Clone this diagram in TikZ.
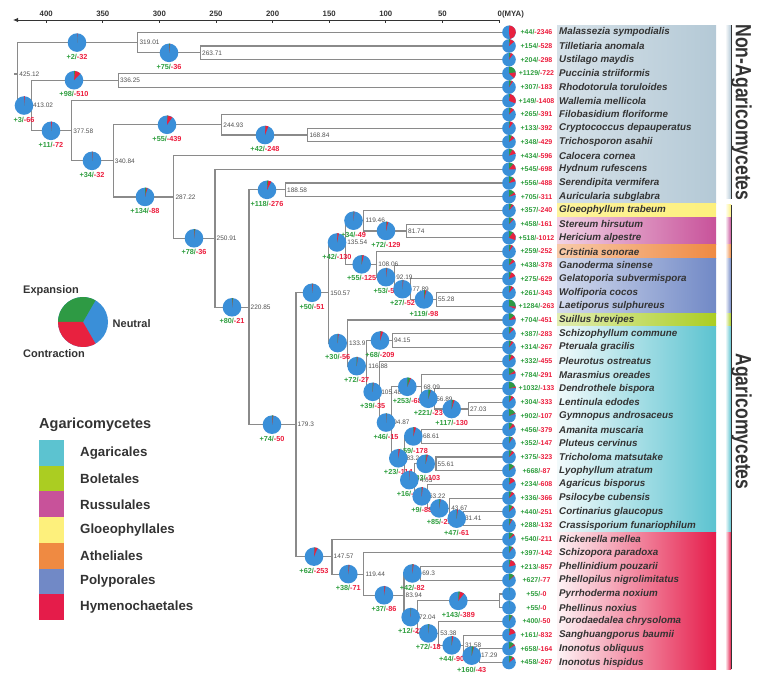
\documentclass[tikz,border=0pt]{standalone}
\usepackage{graphicx}
\usepackage{fontspec}
\setmainfont{Liberation Sans}
\usetikzlibrary{arrows.meta}
\definecolor{treegray}{HTML}{8A8A8A}
\definecolor{agegray}{HTML}{505050}
\definecolor{darktext}{HTML}{333333}
\definecolor{pieblue}{HTML}{3A8FD8}
\definecolor{piegreen}{HTML}{2E9A44}
\definecolor{piered}{HTML}{E8213F}
\definecolor{tgreen}{HTML}{2F9E3F}
\definecolor{tred}{HTML}{EC1C3C}
\definecolor{nonag}{HTML}{B4C9D6}
\definecolor{gloeo}{HTML}{FDF07C}
\definecolor{russ}{HTML}{C8529A}
\definecolor{athel}{HTML}{EF8A42}
\definecolor{poly}{HTML}{7189C6}
\definecolor{bolet}{HTML}{ABCD22}
\definecolor{agar}{HTML}{5CC3D0}
\definecolor{hymen}{HTML}{E51C4A}
\newcommand{\gpie}[5]{%
  \fill[pieblue] (#1,#2) circle[radius=#3];%
  \pgfmathsetmacro\gpa{-90+#4*0.072}%
  \pgfmathsetmacro\gpb{\gpa+#5*0.072}%
  \ifnum#4>0 \fill[piegreen] (#1,#2) -- ++(-90:#3) arc[start angle=-90,end angle=\gpa,radius=#3] -- cycle;\fi
  \ifnum#5>0 \fill[piered] (#1,#2) -- ++(\gpa:#3) arc[start angle=\gpa,end angle=\gpb,radius=#3] -- cycle;\fi
}
\begin{document}
\begin{tikzpicture}[x=1pt,y=-1pt,
  branch/.style={draw=treegray, line width=1.15pt, line join=miter},
  age/.style={font=\fontsize{6.5}{7}\selectfont, text=agegray, anchor=west, inner sep=1.5pt},
  plab/.style={font=\bfseries\fontsize{7.3}{8}\selectfont, inner sep=0pt},
  tipcnt/.style={font=\bfseries\fontsize{7}{8}\selectfont, inner sep=0pt},
  spname/.style={font=\bfseries\itshape\fontsize{9.8}{11}\selectfont, text=darktext, anchor=west, inner sep=0pt},
  axlab/.style={font=\bfseries\fontsize{7.8}{9}\selectfont, text=darktext, inner sep=0pt},
  leglab/.style={font=\bfseries\fontsize{11}{13}\selectfont, text=darktext, anchor=west, inner sep=0pt},
  ordlab/.style={font=\bfseries\fontsize{13.3}{15}\selectfont, text=darktext, anchor=west, inner sep=0pt},
  grouplab/.style={rotate=-90, text=darktext, inner sep=0pt},
]
\useasboundingbox (0,0) rectangle (758,684);

% ---------- coloured bands ----------
\shade[left color=nonag!55, right color=nonag] (557,25.45) rectangle (716,203.55);
\shade[left color=gloeo!75, right color=gloeo] (557,203.55) rectangle (716,217.25);
\shade[left color=russ!25, right color=russ] (557,217.25) rectangle (716,244.65);
\shade[left color=athel!45, right color=athel] (557,244.65) rectangle (716,258.35);
\shade[left color=poly!30, right color=poly] (557,258.35) rectangle (716,313.15);
\shade[left color=bolet!35, right color=bolet] (557,313.15) rectangle (716,326.85);
\shade[left color=agar!8, right color=agar] (557,326.85) rectangle (716,532.35);
\shade[left color=hymen!5, right color=hymen] (557,532.35) rectangle (716,669.35);

% ---------- right strip ----------
\shade[left color=white, right color=nonag] (725,25.45) rectangle (731,199);
\shade[left color=white, right color=gloeo] (725,205) rectangle (731,217.25);
\shade[left color=white, right color=russ] (725,217.25) rectangle (731,244.65);
\shade[left color=white, right color=athel] (725,244.65) rectangle (731,258.35);
\shade[left color=white, right color=poly] (725,258.35) rectangle (731,313.15);
\shade[left color=white, right color=bolet] (725,313.15) rectangle (731,326.85);
\shade[left color=white, right color=agar] (725,326.85) rectangle (731,532.35);
\shade[left color=white, right color=hymen] (725,532.35) rectangle (731,669.35);
\coordinate (g1a) at (731.6,25.45); \coordinate (g1b) at (731.6,199);
\coordinate (g2a) at (731.6,205); \coordinate (g2b) at (731.6,669.35);
\draw[line width=1.2pt, darktext] (g1a) -- (g1b);
\draw[line width=1.2pt, darktext] (g2a) -- (g2b);
\node[grouplab] (nonagl) at (741.5,112.5) {\scalebox{0.8}[1]{\bfseries\fontsize{22}{22}\selectfont Non-Agaricomycetes}};
\node[grouplab] (agl) at (741.5,421.5) {\scalebox{0.8}[1]{\bfseries\fontsize{22}{22}\selectfont Agaricomycetes}};

% ---------- time axis ----------
\coordinate (ax0) at (499,20);
\coordinate (axL) at (13,20);
\draw[darktext, line width=0.9pt, -{Latex[length=5pt,width=4.5pt]}] (ax0) -- (axL);
\foreach \a in {400,350,300,250,200,150,100,50}{
  \pgfmathsetmacro\ax{499-1.132*\a}
  \draw[darktext, line width=0.8pt] (\ax,20) -- (\ax,23);
  \node[axlab] (ax\a) at (\ax,14.3) {\a};
}
\draw[darktext, line width=0.8pt] (499,20) -- (499,23.5);
\node[axlab, anchor=west] (axz) at (497.5,14.3) {0(MYA)};

% ---------- tips ----------
\foreach \i in {0,...,46}{
  \pgfmathsetmacro\yy{32.3+13.7*\i}
  \coordinate (L\i) at (503,\yy);
}

% ---------- internal nodes ----------
\coordinate (n425) at (17.75,74.06);
\coordinate (n319) at (137.9,42.58);
\coordinate (n263) at (200.5,52.85);
\coordinate (n413) at (31.5,105.54);
\coordinate (n336) at (118.4,80.25);
\coordinate (n377) at (71.6,130.83);
\coordinate (n340) at (113.2,160.86);
\coordinate (n244) at (221.7,124.78);
\coordinate (n168) at (307.8,135.05);
\coordinate (n287) at (173.9,196.95);
\coordinate (n250) at (215.0,238.3);
\coordinate (n220) at (249.0,307.3);
\coordinate (n188) at (285.5,189.85);
\coordinate (n179) at (296.0,424.7);
\coordinate (n150) at (328.6,292.8);
\coordinate (n135) at (345.6,242.5);
\coordinate (n119a) at (363.8,220.7);
\coordinate (n81) at (406.5,230.95);
\coordinate (n108) at (376.7,264.35);
\coordinate (n92) at (394.6,277.2);
\coordinate (n77) at (410.8,289.2);
\coordinate (n55) at (436.4,299.45);
\coordinate (n133) at (347.4,343.1);
\coordinate (n116) at (366.7,366.19);
\coordinate (n94a) at (392.4,340.55);
\coordinate (n105) at (379.6,391.82);
\coordinate (n94b) at (391.6,422.54);
\coordinate (n68a) at (421.9,386.79);
\coordinate (n56) at (434.6,398.78);
\coordinate (n27) at (468.4,409.05);
\coordinate (n83) at (404.8,458.29);
\coordinate (n68b) at (421.3,436.45);
\coordinate (n74) at (414.5,480.12);
\coordinate (n55b) at (436.0,463.85);
\coordinate (n63) at (427.4,496.39);
\coordinate (n43) at (449.6,508.38);
\coordinate (n31a) at (463.4,518.65);
\coordinate (n147) at (332.0,556.65);
\coordinate (n119b) at (363.8,574.09);
\coordinate (n83b) at (404.0,595.29);
\coordinate (n69) at (420.6,573.45);
\coordinate (n72) at (417.5,617.12);
\coordinate (n0) at (499.3,600.85);
\coordinate (n53) at (438.6,633.39);
\coordinate (n31b) at (463.3,645.38);
\coordinate (n17) at (479.4,655.65);
\coordinate (rootstub) at (14,74.06);

% ---------- branches ----------
\draw[branch] (n425) -- (rootstub);
\foreach \p/\a/\b in {n425/n319/n413, n319/L0/n263, n263/L1/L2, n413/n336/n377,
  n336/L3/L4, n377/L5/n340, n340/n244/n287, n244/L6/n168, n168/L7/L8,
  n287/L9/n250, n250/L10/n220, n220/n188/n179, n188/L11/L12, n179/n150/n147,
  n150/n135/n133, n135/n119a/n108, n119a/L13/n81, n81/L14/L15, n108/L16/n92,
  n92/L17/n77, n77/L18/n55, n55/L19/L20, n133/L21/n116, n116/n94a/n105,
  n94a/L22/L23, n105/L24/n94b, n94b/n68a/n83, n68a/L25/n56, n56/L26/n27,
  n27/L27/L28, n83/n68b/n74, n68b/L29/L30, n74/n55b/n63, n55b/L31/L32,
  n63/L33/n43, n43/L34/n31a, n31a/L35/L36, n147/L37/n119b, n119b/L38/n83b,
  n83b/n69/n72, n69/L39/L40, n72/n0/n53, n0/L41/L42, n53/L43/n31b,
  n31b/L44/n17, n17/L45/L46}{
  \draw[branch] (\a) -| (\p) |- (\b);
}

% ---------- node ages ----------
\foreach \n/\t in {n425/425.12, n319/319.01, n263/263.71, n413/413.02, n336/336.25,
  n377/377.58, n340/340.84, n244/244.93, n168/168.84, n287/287.22, n250/250.91,
  n220/220.85, n188/188.58, n179/179.3, n150/150.57, n135/135.54, n119a/119.46,
  n81/81.74, n108/108.06, n92/92.19, n77/77.89, n55/55.28, n133/133.9,
  n94a/94.15, n116/116.88, n105/105.48, n94b/94.87, n68a/68.09, n56/56.89,
  n27/27.03, n83/83.24, n68b/68.61, n74/74.63, n55b/55.61, n63/63.22,
  n43/43.67, n31a/31.41, n147/147.57, n119b/119.44, n83b/83.94, n69/69.3,
  n72/72.04, n53/53.38, n31b/31.58, n17/17.29}{
  \node[age] (a\n) at (\n) {\t};
}

% ---------- internal pies ----------
\def\pielist{77/42.58/2/32, 169/52.85/75/36, 24/105.54/3/66, 74/80.25/98/510,
  51/130.83/11/72, 92/160.86/34/32, 167/124.78/55/439, 265/135.05/42/248,
  145/196.95/134/88, 194/238.3/78/36, 232/307.3/80/21, 267/189.85/118/276,
  272/424.7/74/50, 312/292.8/50/51, 337/242.5/42/130, 353.5/220.7/34/49,
  386/230.95/72/129, 361.7/264.35/55/125, 386/277.2/53/59, 402.5/289.2/27/52,
  424/299.45/119/98, 337.7/343.1/30/56, 380/340.55/68/209, 356.7/366.19/72/27,
  372.7/391.82/39/35, 386/422.54/46/15, 407.3/386.79/253/68, 428.3/398.78/221/23,
  451.7/409.05/117/130, 398.3/458.29/23/114, 413.3/436.45/59/178,
  409.3/480.12/16/27, 425.7/463.85/83/103, 421.7/496.39/9/88, 439.3/508.38/85/29,
  456.7/518.65/47/61, 314/556.65/62/253, 348.3/574.09/38/71, 384/595.29/37/86,
  412.3/573.45/42/82, 410.7/617.12/12/23, 458.3/600.85/143/389,
  428.3/633.39/72/18, 451.7/645.38/44/90, 471.7/655.65/160/43}
\foreach \x/\y/\p/\m [count=\k] in \pielist{
  \node[plab] (pl\k) at (\x,\y+14) {\textcolor{tgreen}{+\p/}\textcolor{tred}{-\m}};
}
\foreach \x/\y/\p/\m in \pielist{
  \gpie{\x}{\y}{9.3}{\p}{\m}
}

% ---------- tip pies, counts, names ----------
\foreach \i/\nm/\p/\m in {0/Malassezia sympodialis/44/2346, 1/Tilletiaria anomala/154/528,
  2/Ustilago maydis/204/298, 3/Puccinia striiformis/1129/722,
  4/Rhodotorula toruloides/307/183, 5/Wallemia mellicola/149/1408,
  6/Filobasidium floriforme/265/391, 7/Cryptococcus depauperatus/133/392,
  8/Trichosporon asahii/348/429, 9/Calocera cornea/434/596,
  10/Hydnum rufescens/545/698, 11/Serendipita vermifera/556/488,
  12/Auricularia subglabra/705/311, 13/Gloeophyllum trabeum/357/240,
  14/Stereum hirsutum/458/161, 15/Hericium alpestre/518/1012,
  16/Cristinia sonorae/259/252, 17/Ganoderma sinense/438/378,
  18/Gelatoporia subvermispora/275/629, 19/Wolfiporia cocos/261/343,
  20/Laetiporus sulphureus/1284/263, 21/Suillus brevipes/704/451,
  22/Schizophyllum commune/387/283, 23/Pteruala gracilis/314/267,
  24/Pleurotus ostreatus/332/455, 25/Marasmius oreades/784/291,
  26/Dendrothele bispora/1032/133, 27/Lentinula edodes/304/333,
  28/Gymnopus androsaceus/902/107, 29/Amanita muscaria/456/379,
  30/Pluteus cervinus/352/147, 31/Tricholoma matsutake/375/323,
  32/Lyophyllum atratum/668/87, 33/Agaricus bisporus/234/608,
  34/Psilocybe cubensis/336/366, 35/Cortinarius glaucopus/440/251,
  36/Crassisporium funariophilum/288/132, 37/Rickenella mellea/540/211,
  38/Schizopora paradoxa/397/142, 39/Phellinidium pouzarii/213/857,
  40/Phellopilus nigrolimitatus/627/77, 41/Pyrrhoderma noxium/55/0,
  42/Phellinus noxius/55/0, 43/Porodaedalea chrysoloma/400/50,
  44/Sanghuangporus baumii/161/832, 45/Inonotus obliquus/658/164,
  46/Inonotus hispidus/458/267}{
  \pgfmathsetmacro\yy{32.3+13.7*\i}
  \gpie{509}{\yy}{6.8}{\p}{\m}
  \node[tipcnt] (c\i) at (536.5,\yy) {\textcolor{tgreen}{+\p/}\textcolor{tred}{-\m}};
  \node[spname] (s\i) at (559,\yy) {\nm};
}

% ---------- legend ----------
\coordinate (lp) at (83,322);
\fill[pieblue] (lp) circle[radius=25];
\fill[piegreen] (lp) -- ++(-60:25) arc[start angle=-60,end angle=-180,radius=25] -- cycle;
\fill[piered] (lp) -- ++(180:25) arc[start angle=180,end angle=60,radius=25] -- cycle;
\node[leglab] (lexp) at (23,291) {Expansion};
\node[leglab] (lneu) at (112.5,324) {Neutral};
\node[leglab] (lcon) at (23,353.5) {Contraction};
\node[font=\bfseries\fontsize{14.5}{16}\selectfont, text=darktext, anchor=west, inner sep=0pt] (ltit) at (39,425) {Agaricomycetes};
\foreach \c/\t [count=\k from 0] in {agar/Agaricales, bolet/Boletales, russ/Russulales,
  gloeo/Gloeophyllales, athel/Atheliales, poly/Polyporales, hymen/Hymenochaetales}{
  \pgfmathsetmacro\ly{440+25.7*\k}
  \fill[\c] (39,\ly) rectangle (64,\ly+25.7);
  \node[ordlab] (o\k) at (80,\ly+12.85) {\t};
}
\end{tikzpicture}
\end{document}
